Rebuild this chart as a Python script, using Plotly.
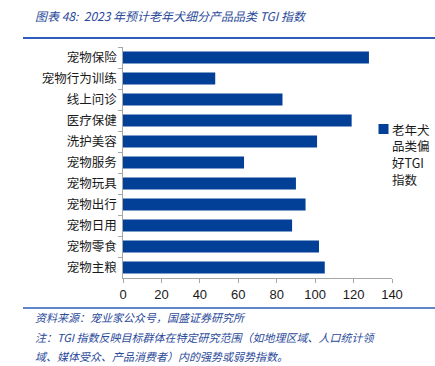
import plotly.graph_objects as go

categories = ["宠物保险", "宠物行为训练", "线上问诊", "医疗保健", "洗护美容", "宠物服务",
              "宠物玩具", "宠物出行", "宠物日用", "宠物零食", "宠物主粮"]
values = [128, 48, 83, 119, 101, 63, 90, 95, 88, 102, 105]
series_name = "老年犬<br>品类偏<br>好TGI<br>指数"
x_ticks = [0, 20, 40, 60, 80, 100, 120, 140]

title_text = "图表 48:  2023 年预计老年犬细分产品品类 TGI 指数"
source_text = "资料来源：宠业家公众号，国盛证券研究所"
note_line1 = "注：TGI 指数反映目标群体在特定研究范围（如地理区域、人口统计领"
note_line2 = "域、媒体受众、产品消费者）内的强势或弱势指数。"

BAR = "#023f96"
BLUE_TXT = "#2b4a9a"
CJK = "Noto Sans CJK SC"

W, H = 435, 366
L, R, T, B = 123, 43, 47, 88
PW, PH = W - L - R, H - T - B

def px_x(x):
    return (x - L) / PW

def px_y(y):
    return (H - B - y) / PH

fig = go.Figure()
fig.add_trace(go.Bar(
    y=categories, x=values, orientation="h", name=series_name,
    marker=dict(color=BAR, line=dict(width=0)),
    showlegend=False,
))

fig.update_layout(
    width=W, height=H,
    margin=dict(l=L, r=R, t=T, b=B, autoexpand=False),
    paper_bgcolor="white", plot_bgcolor="white",
    bargap=0.43,
    showlegend=False,
    font=dict(family=CJK, size=12.5, color="#1a1a1a"),
    xaxis=dict(
        range=[0, 140], tickvals=x_ticks, ticktext=[str(v) for v in x_ticks],
        showgrid=False, zeroline=False,
        showline=True, linecolor="#a6a6a6", linewidth=1,
        ticks="outside", ticklen=4, tickcolor="#a6a6a6",
        tickfont=dict(family="Liberation Sans", size=13, color="#1a1a1a"),
        fixedrange=True,
    ),
    yaxis=dict(
        autorange="reversed", type="category",
        showgrid=False, zeroline=False,
        showline=True, linecolor="#a6a6a6", linewidth=1,
        ticks="outside", ticklen=4, tickcolor="#a6a6a6", tickson="boundaries",
        tickfont=dict(family=CJK, size=12.5, color="#1a1a1a"),
        ticksuffix=" ",
    ),
)

# Legend (drawn as key square + text lines, matching the reference's compact layout)
fig.add_shape(type="rect", xref="paper", yref="paper",
              x0=px_x(378.5), x1=px_x(388.5), y0=px_y(134), y1=px_y(124),
              fillcolor=BAR, line=dict(width=0))
for i, line in enumerate(series_name.split("<br>")):
    fig.add_annotation(xref="paper", yref="paper", x=px_x(390), y=px_y(129 + i * 16.8),
                       xanchor="left", yanchor="middle", align="left",
                       text=line, showarrow=False,
                       font=dict(family=CJK, size=12.5, color="#1a1a1a"))

# Title and rules
fig.add_annotation(xref="paper", yref="paper", x=px_x(33), y=px_y(15),
                   xanchor="left", yanchor="middle",
                   text="<i>" + title_text + "</i>", showarrow=False,
                   font=dict(family=CJK, size=12, color=BLUE_TXT))
fig.add_shape(type="line", xref="paper", yref="paper",
              x0=px_x(23), x1=px_x(435), y0=px_y(38), y1=px_y(38),
              line=dict(color="#2e5cb8", width=2))
fig.add_shape(type="line", xref="paper", yref="paper",
              x0=px_x(23), x1=px_x(435), y0=px_y(308), y1=px_y(308),
              line=dict(color="#2e5cb8", width=1.5))

def note(text, ypix):
    fig.add_annotation(xref="paper", yref="paper", x=px_x(33), y=px_y(ypix),
                       xanchor="left", yanchor="middle",
                       text="<i>" + text + "</i>", showarrow=False,
                       font=dict(family=CJK, size=11, color=BLUE_TXT))

note(source_text, 317)
note(note_line1, 337)
note(note_line2, 356)

fig.write_html("out.html", config={"displayModeBar": False},
               post_script="document.body.style.margin='0';")
